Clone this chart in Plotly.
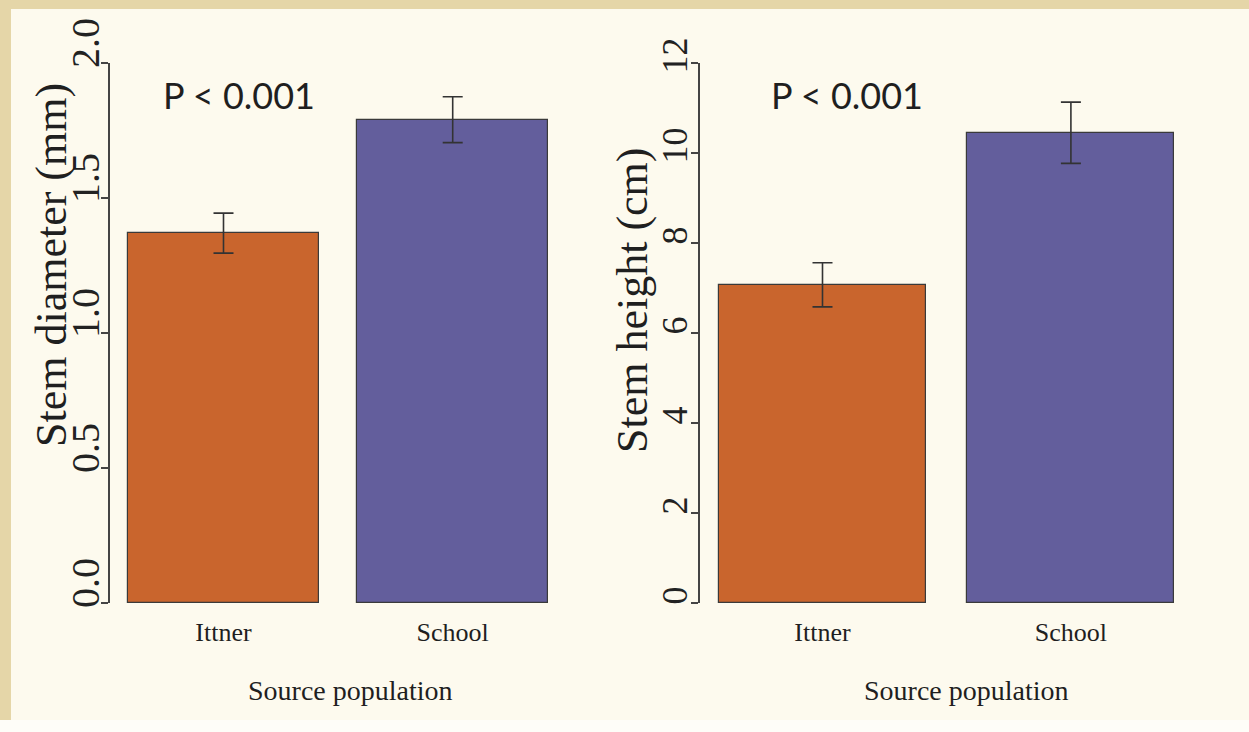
import plotly.graph_objects as go

# Source populations and measured stem traits (mean ± SE)
categories = ["Ittner", "School"]
diameter_mean = [1.37, 1.79]
diameter_se = [0.074, 0.085]
height_mean = [7.07, 10.45]
height_se = [0.49, 0.68]
diameter_ticks = [0.0, 0.5, 1.0, 1.5, 2.0]
diameter_ticktext = ["0.0", "0.5", "1.0", "1.5", "2.0"]
height_ticks = [0, 2, 4, 6, 8, 10, 12]
p_label = "P < 0.001"

W, H = 1249, 732
bar_colors = ["#C9652D", "#635E9C"]
edge = "#3a3a3a"
serif = "Liberation Serif, Times New Roman, serif"

# barplot-style positions: width 1, space 0.2
centers = [0.2 + 0.5 + i * 1.2 for i in range(len(categories))]


def fx(px):
    return px / W


def fy(py):
    return 1 - py / H


fig = go.Figure()

panels = [
    dict(mean=diameter_mean, se=diameter_se, xa="x", ya="y"),
    dict(mean=height_mean, se=height_se, xa="x2", ya="y2"),
]
for p in panels:
    fig.add_trace(go.Bar(
        x=centers, y=p["mean"], width=1.0,
        marker=dict(color=bar_colors, line=dict(color=edge, width=1.2)),
        error_y=dict(type="data", array=p["se"], visible=True,
                     color="#333333", thickness=1.6, width=10),
        xaxis=p["xa"], yaxis=p["ya"], showlegend=False, hoverinfo="skip",
    ))

ydom = [fy(603), fy(63)]
common_x = dict(
    tickmode="array", tickvals=centers, ticktext=categories,
    showline=False, ticks="", showgrid=False, zeroline=False,
    tickfont=dict(family=serif, size=26, color="#1f1f1f"),
    ticklabelstandoff=11,
)
common_y = dict(
    showline=True, linecolor="#444444", linewidth=1.5,
    ticks="outside", ticklen=7, tickwidth=1.5, tickcolor="#444444",
    showgrid=False, zeroline=False, tickangle=-90,
)

fig.update_layout(
    width=W, height=H,
    margin=dict(l=0, r=0, t=0, b=0, autoexpand=False),
    paper_bgcolor="#E5D6A8",
    plot_bgcolor="rgba(0,0,0,0)",
    bargap=0,
    xaxis=dict(domain=[fx(110), fx(590)], range=[0.2 - 18 / 191, 0.2 - 18 / 191 + 480 / 191],
               anchor="y", **common_x),
    yaxis=dict(domain=ydom, range=[0, 2], anchor="x",
               tickvals=diameter_ticks, ticktext=diameter_ticktext,
               tickfont=dict(family=serif, size=40, color="#222222"),
               ticklabelshift=-14, ticklabelstandoff=-14, **common_y),
    xaxis2=dict(domain=[fx(700), fx(1232)], range=[0.2 - 19 / 207, 0.2 - 19 / 207 + 532 / 207],
                anchor="y2", **common_x),
    yaxis2=dict(domain=ydom, range=[0, 12], anchor="x2",
                tickvals=height_ticks,
                tickfont=dict(family=serif, size=36, color="#222222"),
                ticklabelshift=-2, ticklabelstandoff=-10, **common_y),
    shapes=[
        # cream panel inside the frame
        dict(type="rect", xref="paper", yref="paper", x0=fx(11), x1=1.0,
             y0=fy(720), y1=fy(9), fillcolor="#FDFAEE", line=dict(width=0), layer="below"),
        # light strip along the bottom edge
        dict(type="rect", xref="paper", yref="paper", x0=0, x1=1.0,
             y0=0, y1=fy(720), fillcolor="#FEFDF8", line=dict(width=0), layer="below"),
    ],
)

labels = [
    ("Stem diameter (mm)", 51, 265, -90, serif, 44),
    ("Stem height (cm)", 632, 300, -90, serif, 44),
    ("Source population", 350, 690, 0, serif, 28),
    ("Source population", 966, 690, 0, serif, 28),
    (p_label, 239, 95, 0, "Lato, Carlito, sans-serif", 36),
    (p_label, 847, 95, 0, "Lato, Carlito, sans-serif", 36),
]
for text, px, py, ang, fam, size in labels:
    fig.add_annotation(
        text=text, textangle=ang, xref="paper", yref="paper",
        x=fx(px), y=fy(py), xanchor="center", yanchor="middle", showarrow=False,
        font=dict(family=fam, size=size, color="#1f1f1f"),
    )

fig.write_html("out.html")
